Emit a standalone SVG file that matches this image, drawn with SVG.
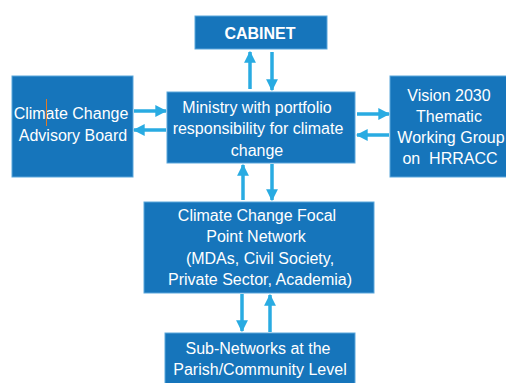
<svg xmlns="http://www.w3.org/2000/svg" width="506" height="383" viewBox="0 0 506 383">
<style>
.box{fill:#1675bb;stroke:#5aa7dc;stroke-width:1}
.t{font-family:"Liberation Sans",Arial,sans-serif;font-size:16px;fill:#fff;text-anchor:middle}
.b{font-weight:bold;font-size:16px}
.c{stroke:#29abe2;stroke-width:3.5;fill:none;marker-end:url(#ah)}
</style>
<defs>
<marker id="ah" viewBox="0 0 10 10" refX="9" refY="5" markerWidth="3.4" markerHeight="3.4" orient="auto" markerUnits="strokeWidth">
<path d="M0,0 L10,5 L0,10 z" fill="#29abe2"/>
</marker>
</defs>
<rect width="506" height="383" fill="#fff"/>
<g id="connectors">
<line class="c" x1="250" y1="89" x2="250" y2="52"/>
<line class="c" x1="272" y1="52" x2="272" y2="90"/>
<line class="c" x1="134" y1="111" x2="166" y2="111"/>
<line class="c" x1="166" y1="130" x2="134" y2="130"/>
<line class="c" x1="357" y1="114" x2="389" y2="114"/>
<line class="c" x1="389" y1="135" x2="357" y2="135"/>
<line class="c" x1="243" y1="200" x2="243" y2="165"/>
<line class="c" x1="272" y1="164" x2="272" y2="200"/>
<line class="c" x1="242" y1="294" x2="242" y2="331"/>
<line class="c" x1="270" y1="332" x2="270" y2="295"/>
</g>
<g id="cabinet">
<rect class="box" x="195" y="16" width="132" height="33"/>
<text class="t b" x="260" y="39">CABINET</text>
</g>
<g id="advisory">
<rect class="box" x="12" y="76" width="121" height="101"/>
<text class="t" x="71" y="119">Climate Change</text>
<text class="t" x="73" y="141">Advisory Board</text>
<line x1="46.5" y1="99" x2="46.5" y2="126" stroke="#e07b28" stroke-width="1"/>
</g>
<g id="ministry">
<rect class="box" x="167" y="92" width="188" height="71"/>
<text class="t" x="257" y="113">Ministry with portfolio</text>
<text class="t" x="258" y="134">responsibility for climate</text>
<text class="t" x="257" y="156">change</text>
</g>
<g id="vision">
<rect class="box" x="390" y="76" width="120" height="101"/>
<text class="t" x="449" y="101">Vision 2030</text>
<text class="t" x="449" y="122">Thematic</text>
<text class="t" x="451" y="143">Working Group</text>
<text class="t" x="450" y="164">on&#160; HRRACC</text>
</g>
<g id="focal">
<rect class="box" x="144" y="202" width="230" height="91"/>
<text class="t" x="257" y="221">Climate Change Focal</text>
<text class="t" x="256" y="242">Point Network</text>
<text class="t" x="260" y="264">(MDAs, Civil Society,</text>
<text class="t" x="260" y="285">Private Sector, Academia)</text>
</g>
<g id="subnetworks">
<rect class="box" x="165" y="333" width="190" height="55"/>
<text class="t" x="258" y="354">Sub-Networks at the</text>
<text class="t" x="260" y="375">Parish/Community Level</text>
</g>
</svg>
